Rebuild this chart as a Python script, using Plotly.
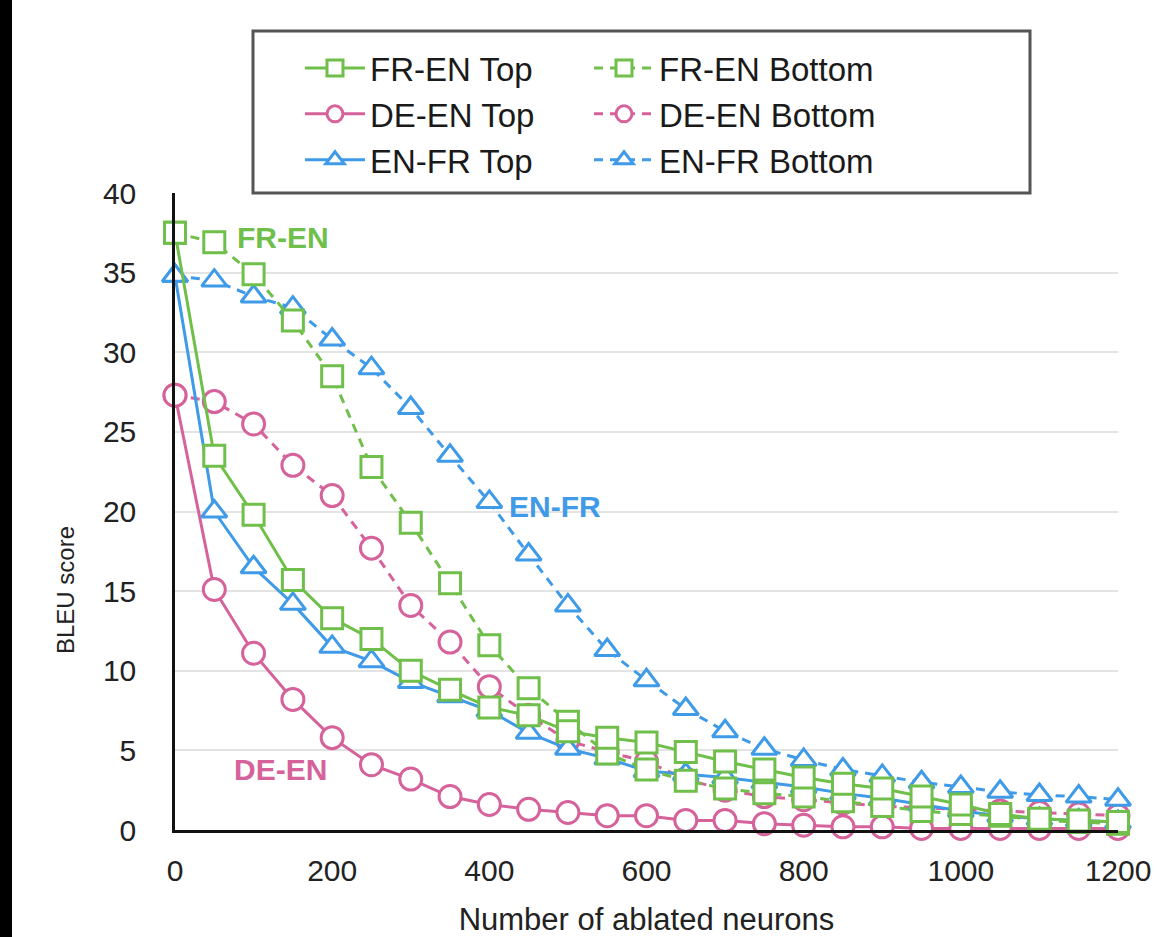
import plotly.graph_objects as go

neurons = [0, 50, 100, 150, 200, 250, 300, 350, 400, 450, 500, 550, 600,
           650, 700, 750, 800, 850, 900, 950, 1000, 1050, 1100, 1150, 1200]

fren_top = [37.5, 23.5, 19.8, 15.7, 13.3, 12.0, 10.0, 8.8, 7.7, 7.2, 6.2, 5.8, 5.5,
            4.9, 4.3, 3.8, 3.3, 2.9, 2.6, 2.1, 1.6, 1.0, 0.7, 0.6, 0.5]
fren_bottom = [37.5, 36.9, 34.9, 32.0, 28.5, 22.8, 19.3, 15.5, 11.6, 8.9, 6.8, 4.8, 3.8,
               3.1, 2.6, 2.3, 2.1, 1.8, 1.5, 1.2, 1.0, 0.9, 0.6, 0.5, 0.4]
deen_top = [27.3, 15.1, 11.1, 8.2, 5.8, 4.1, 3.2, 2.1, 1.6, 1.3, 1.1, 0.9, 0.9,
            0.6, 0.6, 0.4, 0.3, 0.2, 0.2, 0.1, 0.1, 0.1, 0.1, 0.1, 0.1]
deen_bottom = [27.3, 26.9, 25.5, 22.9, 21.0, 17.7, 14.1, 11.8, 9.0, 7.2, 5.6, 4.9, 4.3,
               3.2, 2.5, 2.1, 1.9, 1.7, 1.5, 1.4, 1.3, 1.2, 1.1, 1.0, 0.9]
enfr_top = [34.8, 20.0, 16.5, 14.2, 11.5, 10.6, 9.3, 8.4, 7.5, 6.1, 5.1, 4.5, 3.7,
            3.5, 3.3, 3.0, 2.7, 2.3, 2.0, 1.6, 1.2, 0.9, 0.7, 0.6, 0.5]
enfr_bottom = [34.8, 34.5, 33.5, 32.8, 30.8, 29.0, 26.5, 23.5, 20.6, 17.3, 14.1, 11.3, 9.4,
               7.6, 6.2, 5.1, 4.4, 3.8, 3.4, 3.0, 2.7, 2.4, 2.2, 2.1, 1.9]

y_ticks = [0, 5, 10, 15, 20, 25, 30, 35, 40]
x_ticks = [0, 200, 400, 600, 800, 1000, 1200]

GREEN = "#6FBF4A"
PINK = "#D6629B"
BLUE = "#3F9AE8"
FONT = "Liberation Sans, Arial, Helvetica, sans-serif"
DASH = "9px,7px"

fig = go.Figure()

def add(name, y, color, symbol, dash, legend, rank, msize):
    fig.add_trace(go.Scatter(
        x=neurons, y=y, name=name, mode="lines+markers",
        line=dict(color=color, width=3, dash=dash),
        marker=dict(symbol=symbol, size=msize, color="white",
                    line=dict(color=color, width=3)),
        cliponaxis=False, legend=legend, legendrank=rank,
    ))

# draw order: pink, blue, green (green on top)
add("DE-EN Bottom", deen_bottom, PINK, "circle", DASH, "legend2", 2, 22)
add("DE-EN Top", deen_top, PINK, "circle", "solid", "legend", 2, 22)
add("EN-FR Bottom", enfr_bottom, BLUE, "triangle-up", DASH, "legend2", 3, 22)
add("EN-FR Top", enfr_top, BLUE, "triangle-up", "solid", "legend", 3, 22)
add("FR-EN Bottom", fren_bottom, GREEN, "square", DASH, "legend2", 1, 21)
add("FR-EN Top", fren_top, GREEN, "square", "solid", "legend", 1, 21)

L, R, T, B = 175, 53, 193, 107
W, H = 1171, 937
pw, ph = W - L - R, H - T - B

def px(xp):
    return (xp - L) / pw

def py(yp):
    return (H - B - yp) / ph

legend_common = dict(
    font=dict(family=FONT, size=33, color="#1a1a1a"),
    bgcolor="rgba(0,0,0,0)", borderwidth=0,
    orientation="v", xanchor="left", yanchor="top",
    itemwidth=60, tracegroupgap=0, traceorder="normal",
)

fig.update_layout(
    width=W, height=H,
    margin=dict(l=L, r=R, t=T, b=B, autoexpand=False),
    paper_bgcolor="white", plot_bgcolor="white",
    font=dict(family=FONT, color="#222"),
    showlegend=True,
    legend=dict(x=px(300), y=py(40), **legend_common),
    legend2=dict(x=px(589), y=py(40), **legend_common),
    xaxis=dict(
        range=[0, 1200], tickvals=x_ticks, ticktext=[str(v) for v in x_ticks],
        showgrid=False, zeroline=False, automargin=False,
        showline=True, linecolor="#111", linewidth=2.5,
        ticks="", tickfont=dict(family=FONT, size=30, color="#222"),
        ticklabelstandoff=12,
        title=dict(text="Number of ablated neurons",
                   font=dict(family=FONT, size=31, color="#222"), standoff=24),
    ),
    yaxis=dict(
        range=[0, 40], tickvals=y_ticks, ticktext=[str(v) for v in y_ticks],
        showgrid=True, gridcolor="#E3E3E3", gridwidth=1.5, automargin=False,
        zeroline=False, showline=True, linecolor="#111", linewidth=2.5,
        ticks="", tickfont=dict(family=FONT, size=30, color="#222"),
        ticklabelstandoff=30,
    ),
    shapes=[
        dict(type="rect", xref="paper", yref="paper",
             x0=px(253), x1=px(1030), y0=py(193), y1=py(31),
             line=dict(color="#555555", width=3), fillcolor="white", layer="above"),
        dict(type="rect", xref="paper", yref="paper",
             x0=px(0), x1=px(12), y0=py(H), y1=py(0),
             line=dict(width=0), fillcolor="black", layer="above"),
    ],
    annotations=[
        dict(text="BLEU score", textangle=-90, x=px(65), y=py(590),
             xref="paper", yref="paper", xanchor="center", yanchor="middle",
             showarrow=False, font=dict(family=FONT, size=24, color="#222")),
        dict(text="<b>FR-EN</b>", x=76, y=37.2, xref="x", yref="y",
             xanchor="left", yanchor="middle", showarrow=False,
             font=dict(family=FONT, size=30, color=GREEN)),
        dict(text="<b>EN-FR</b>", x=422, y=20.3, xref="x", yref="y",
             xanchor="left", yanchor="middle", showarrow=False,
             font=dict(family=FONT, size=30, color=BLUE)),
        dict(text="<b>DE-EN</b>", x=73, y=3.8, xref="x", yref="y",
             xanchor="left", yanchor="middle", showarrow=False,
             font=dict(family=FONT, size=30, color=PINK)),
    ],
)

fig.write_html("out.html", config={"displayModeBar": False},
               post_script="document.body.style.margin='0px';")
